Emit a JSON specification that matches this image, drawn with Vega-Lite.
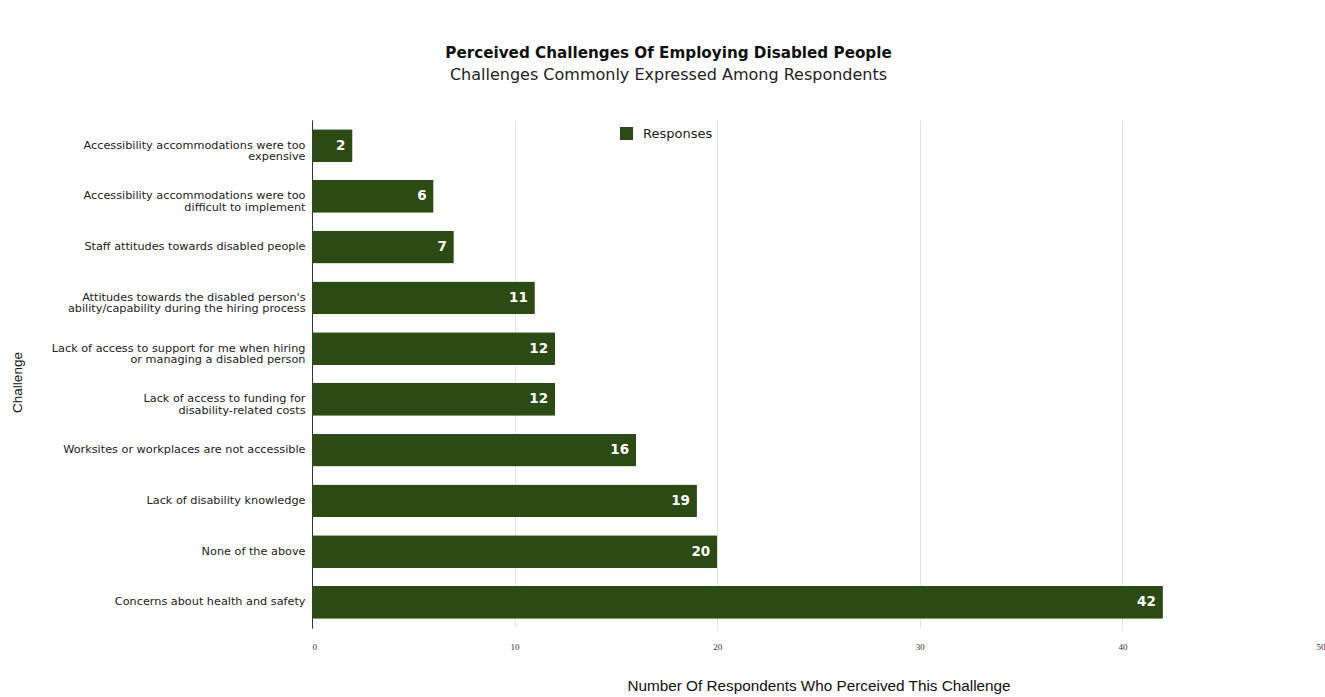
{
  "$schema": "https://vega.github.io/schema/vega-lite/v6.json",
  "autosize": "none",
  "width": 1013,
  "height": 508,
  "padding": {"left": 312, "top": 120, "right": 0, "bottom": 69},
  "background": "white",
  "title": {
    "text": "Perceived Challenges Of Employing Disabled People",
    "subtitle": "Challenges Commonly Expressed Among Respondents",
    "anchor": "middle",
    "dx": -150,
    "offset": 37,
    "font": "DejaVu Sans",
    "fontSize": 15.2,
    "fontWeight": "bold",
    "color": "#111",
    "subtitleFont": "DejaVu Sans",
    "subtitleFontSize": 16,
    "subtitleColor": "#222",
    "subtitlePadding": 6
  },
  "data": {
    "values": [
      {"challenge": "Accessibility accommodations were too|expensive", "responses": 2},
      {"challenge": "Accessibility accommodations were too|difficult to implement", "responses": 6},
      {"challenge": "Staff attitudes towards disabled people", "responses": 7},
      {"challenge": "Attitudes towards the disabled person's|ability/capability during the hiring process", "responses": 11},
      {"challenge": "Lack of access to support for me when hiring|or managing a disabled person", "responses": 12},
      {"challenge": "Lack of access to funding for|disability-related costs", "responses": 12},
      {"challenge": "Worksites or workplaces are not accessible", "responses": 16},
      {"challenge": "Lack of disability knowledge", "responses": 19},
      {"challenge": "None of the above", "responses": 20},
      {"challenge": "Concerns about health and safety", "responses": 42}
    ]
  },
  "encoding": {
    "y": {
      "field": "challenge",
      "type": "nominal",
      "sort": [
        "Accessibility accommodations were too|expensive",
        "Accessibility accommodations were too|difficult to implement",
        "Staff attitudes towards disabled people",
        "Attitudes towards the disabled person's|ability/capability during the hiring process",
        "Lack of access to support for me when hiring|or managing a disabled person",
        "Lack of access to funding for|disability-related costs",
        "Worksites or workplaces are not accessible",
        "Lack of disability knowledge",
        "None of the above",
        "Concerns about health and safety"
      ],
      "scale": {"paddingInner": 0.35, "paddingOuter": 0.18},
      "axis": {
        "title": "Challenge",
        "titleFont": "Liberation Sans",
        "titleFontSize": 13.5,
        "titleFontWeight": "normal",
        "titleColor": "#111",
        "titlePadding": 0,
        "titleX": -288,
        "titleY": 262,
        "labelExpr": "split(datum.value, '|')",
        "labelFont": "DejaVu Sans",
        "labelFontSize": 11.25,
        "labelColor": "#222",
        "labelLineHeight": 11.5,
        "labelPadding": 7,
        "labelLimit": 300,
        "ticks": false,
        "domain": true,
        "domainColor": "#333",
        "domainWidth": 1
      }
    },
    "x": {
      "field": "responses",
      "type": "quantitative",
      "scale": {"domain": [0, 50]},
      "axis": {
        "title": "Number Of Respondents Who Perceived This Challenge",
        "titleFont": "Liberation Sans",
        "titleFontSize": 15.3,
        "titleFontWeight": "normal",
        "titleColor": "#111",
        "titlePadding": 27,
        "values": [0, 10, 20, 30, 40, 50],
        "labelFont": "Liberation Serif",
        "labelFontSize": 9,
        "labelColor": "#333",
        "labelPadding": 14,
        "domain": false,
        "ticks": false,
        "grid": true,
        "gridColor": "#e4e4e4",
        "gridWidth": 1
      }
    }
  },
  "layer": [
    {
      "mark": {"type": "bar", "cornerRadius": 1},
      "encoding": {
        "color": {
          "datum": "Responses",
          "type": "nominal",
          "scale": {"range": ["#2b4a14"]},
          "legend": {
            "title": null,
            "orient": "none",
            "legendX": 307,
            "legendY": 6,
            "symbolType": "square",
            "symbolSize": 170,
            "labelFont": "DejaVu Sans",
            "labelFontSize": 13,
            "labelColor": "#222",
            "labelOffset": 9
          }
        }
      }
    },
    {
      "mark": {
        "type": "text",
        "align": "right",
        "baseline": "middle",
        "dx": -7,
        "color": "white",
        "font": "DejaVu Sans",
        "fontSize": 13.5,
        "fontWeight": "bold"
      },
      "encoding": {"text": {"field": "responses", "type": "quantitative"}}
    }
  ],
  "config": {"view": {"stroke": null}}
}
